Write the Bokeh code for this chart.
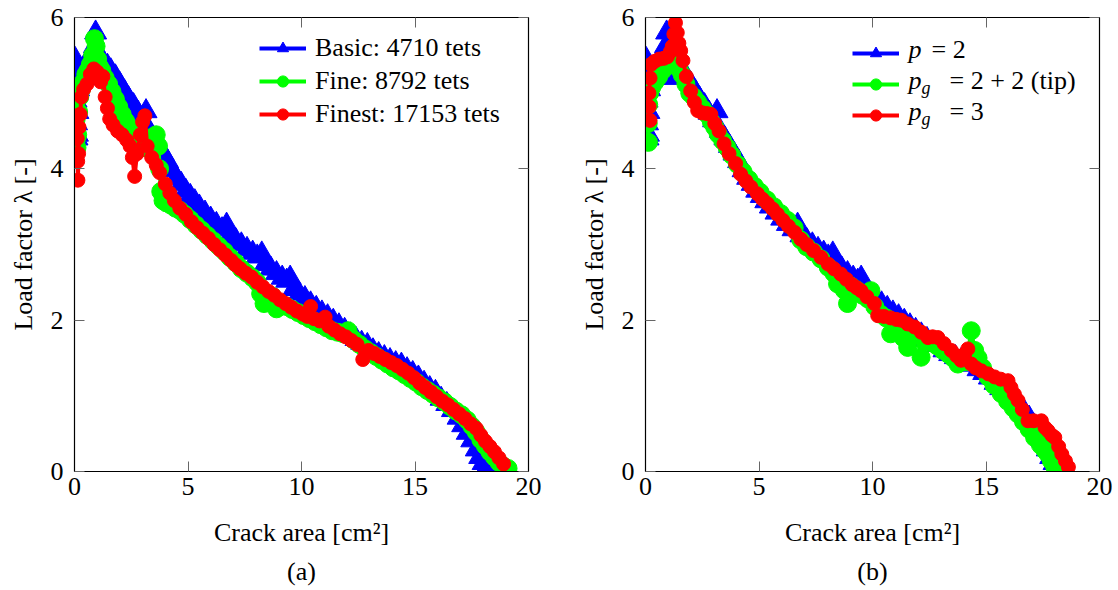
from bokeh.plotting import figure
from bokeh.models import (Range1d, FixedTicker, LinearAxis, Legend, LegendItem,
                          Label, Title)
from bokeh.layouts import row
from bokeh.embed import file_html
from bokeh.resources import INLINE

FONT = "Liberation Serif"
FS = "26px"
BLUE, GREEN, RED = "#0000FF", "#00FF00", "#FF0000"

x_ticks = [0, 5, 10, 15, 20]
y_ticks = [0, 2, 4, 6]

# ---------------- panel (a): mesh refinement ----------------
basic_x = [0.03, 0.05, 0.07, 0.09, 0.11, 0.13, 0.15, 0.18, 0.22, 0.30, 0.40, 0.50, 0.60, 0.70,
           0.80, 0.88, 0.93, 0.98, 1.05, 1.12, 1.20, 1.30, 1.45, 1.60, 1.80, 2.00, 2.20, 2.40,
           2.60, 2.80, 3.00, 3.15, 3.30, 3.50, 3.70, 3.90, 4.10, 4.30, 4.50, 4.70, 4.90, 5.10,
           5.30, 5.50, 5.75, 6.00, 6.25, 6.50, 6.70, 6.85, 7.10, 7.35, 7.60, 7.85, 8.05, 8.25,
           8.40, 8.65, 8.90, 9.15, 9.35, 9.50, 9.65, 9.90, 10.15, 10.40, 10.65, 10.90, 11.15,
           11.40, 11.65, 11.90, 12.15, 12.40, 12.65, 12.90, 13.15, 13.40, 13.65, 13.90, 14.15,
           14.40, 14.65, 14.90, 15.15, 15.40, 15.65, 15.90, 16.15, 16.40, 16.65, 16.90, 17.10,
           17.30, 17.50, 17.70, 17.85, 18.00, 18.15, 18.30]
basic_y = [5.45, 5.20, 4.90, 4.60, 4.40, 4.45, 4.75, 5.05, 5.30, 5.25, 5.32, 5.38, 5.42, 5.48,
           5.55, 5.62, 5.80, 5.45, 5.22, 5.20, 5.35, 5.40, 5.36, 5.30, 5.22, 5.12, 5.02, 4.92,
           4.84, 4.74, 4.64, 4.76, 4.50, 4.40, 4.30, 4.20, 4.10, 3.98, 3.88, 3.80, 3.71, 3.64,
           3.57, 3.50, 3.42, 3.34, 3.27, 3.20, 3.26, 3.12, 3.06, 3.00, 2.94, 2.89, 2.84, 2.88,
           2.74, 2.68, 2.62, 2.56, 2.52, 2.56, 2.41, 2.35, 2.29, 2.22, 2.16, 2.10, 2.05,
           1.99, 1.93, 1.87, 1.81, 1.75, 1.70, 1.67, 1.60, 1.55, 1.51, 1.47, 1.43,
           1.41, 1.35, 1.30, 1.24, 1.17, 1.10, 1.05, 0.96, 0.89, 0.81, 0.71, 0.61,
           0.51, 0.41, 0.29, 0.19, 0.11, 0.05, 0.02]

fine_x = [0.05, 0.07, 0.09, 0.11, 0.14, 0.18, 0.23, 0.30, 0.40, 0.50, 0.60, 0.70, 0.80, 0.88,
          0.95, 1.02, 1.10, 1.20, 1.35, 1.50, 1.65, 1.80, 1.95, 2.10, 2.25, 2.40, 2.55, 2.70,
          2.85, 3.00, 3.15, 3.30, 3.45, 3.60, 3.70, 3.75, 3.80, 3.90, 4.05, 4.25, 4.45, 4.65,
          4.85, 5.10, 5.35, 5.60, 5.85, 6.10, 6.35, 6.60, 6.85, 7.10, 7.35, 7.60, 7.85, 8.05,
          8.20, 8.35, 8.50, 8.70, 8.90, 9.10, 9.35, 9.60, 9.85, 10.10, 10.35, 10.60, 10.85,
          11.10, 11.35, 11.60, 11.85, 12.05, 12.30, 12.55, 12.80, 13.05, 13.30, 13.55, 13.80,
          14.05, 14.30, 14.55, 14.80, 15.05, 15.30, 15.55, 15.80, 16.05, 16.30, 16.55, 16.80,
          17.05, 17.30, 17.50, 17.70, 17.90, 18.10, 18.30, 18.50, 18.70, 18.90, 19.10]
fine_y = [4.90, 4.65, 4.40, 4.28, 4.45, 4.75, 4.95, 5.05, 5.15, 5.25, 5.30, 5.38, 5.50, 5.72,
          5.62, 5.45, 5.35, 5.30, 5.20, 5.12, 5.02, 4.92, 4.82, 4.72, 4.63, 4.55, 4.48, 4.40,
          4.33, 4.28, 4.28, 4.35, 4.42, 4.45, 4.30, 4.00, 3.70, 3.58, 3.55, 3.52, 3.48, 3.45,
          3.40, 3.33, 3.26, 3.19, 3.12, 3.05, 2.98, 2.91, 2.83, 2.76, 2.68, 2.62, 2.56, 2.50,
          2.35, 2.22, 2.28, 2.32, 2.15, 2.22, 2.18, 2.14, 2.10, 2.06, 2.02, 1.98, 1.94,
          1.90, 1.86, 1.84, 1.82, 1.86, 1.74, 1.68, 1.62, 1.57, 1.52, 1.47, 1.42,
          1.37, 1.33, 1.28, 1.23, 1.18, 1.12, 1.07, 1.02, 0.97, 0.92, 0.86, 0.80,
          0.75, 0.68, 0.60, 0.52, 0.42, 0.34, 0.26, 0.19, 0.12, 0.07, 0.04]

finest_x = [0.10, 0.12, 0.14, 0.15, 0.18, 0.20, 0.25, 0.30, 0.40, 0.55, 0.70, 0.85, 1.00, 1.15,
            1.25, 1.35, 1.45, 1.55, 1.70, 1.90, 2.10, 2.30, 2.45, 2.55, 2.65, 2.75, 2.90, 3.00,
            3.10, 3.20, 3.40, 3.60, 3.75, 4.00, 4.20, 4.40, 4.64, 4.90, 5.15, 5.40, 5.65, 5.90,
            6.15, 6.40, 6.65, 6.90, 7.10, 7.30, 7.55, 7.80, 8.05, 8.30, 8.55, 8.80, 9.05, 9.30,
            9.55, 9.80, 10.05, 10.25, 10.40, 10.55, 10.80, 11.04, 11.20, 11.45, 11.70, 11.95,
            12.20, 12.45, 12.70, 12.95, 13.20, 13.45, 13.70, 13.95, 14.20, 14.45, 14.70, 14.95,
            15.20, 15.45, 15.70, 15.95, 16.20, 16.45, 16.70, 16.95, 17.20, 17.45, 17.70, 17.90,
            18.10, 18.30, 18.50, 18.70, 18.90]
finest_y = [4.70, 4.40, 4.10, 3.85, 4.20, 4.55, 4.72, 4.95, 5.05, 5.12, 5.25, 5.32, 5.28, 5.15,
            5.22, 4.95, 4.80, 4.66, 4.58, 4.50, 4.45, 4.38, 4.30, 4.15, 3.90, 4.20, 4.45, 4.62,
            4.70, 4.30, 4.15, 4.05, 3.95, 3.80, 3.68, 3.58, 3.48, 3.40, 3.30, 3.22, 3.15, 3.08,
            3.00, 2.93, 2.86, 2.79, 2.73, 2.68, 2.62, 2.57, 2.50, 2.44, 2.38, 2.33, 2.27, 2.22,
            2.17, 2.12, 2.08, 2.05, 2.18, 2.02, 1.99, 2.04, 1.92, 1.87, 1.82, 1.78,
            1.73, 1.68, 1.48, 1.60, 1.56, 1.52, 1.48, 1.44, 1.40, 1.35, 1.30, 1.24,
            1.17, 1.11, 1.05, 0.99, 0.93, 0.88, 0.82, 0.76, 0.70, 0.63, 0.57, 0.48,
            0.40, 0.33, 0.26, 0.18, 0.10]

# ---------------- panel (b): polynomial order ----------------
p2_x = basic_x
p2_y = basic_y

pg22_x = [0.13, 0.12, 0.14, 0.18, 0.28, 0.42, 0.58, 0.75, 0.92, 1.05, 1.18, 1.32, 1.48, 1.62,
          1.78, 1.95, 2.12, 2.30, 2.50, 2.72, 2.90, 3.05, 3.20, 3.40, 3.60, 3.80, 4.05, 4.30,
          4.55, 4.80, 5.05, 5.35, 5.65, 5.95, 6.25, 6.55, 6.84, 7.10, 7.40, 7.73, 8.05, 8.30,
          8.46, 8.60, 8.75, 8.90, 9.05, 9.30, 9.55, 9.80, 9.93, 10.10, 10.35, 10.60, 10.80,
          10.95, 11.20, 11.35, 11.55, 11.75, 11.95, 12.14, 12.35, 12.60, 12.85, 13.10, 13.35,
          13.55, 13.76, 13.95, 14.15, 14.35, 14.50, 14.65, 14.85, 15.09, 15.35, 15.67, 15.95,
          16.20, 16.41, 16.65, 16.90, 17.14, 17.40, 17.60, 17.73, 17.88, 18.03]
pg22_y = [4.35, 4.60, 4.85, 5.00, 5.08, 5.15, 5.22, 5.30, 5.38, 5.44, 5.46, 5.40, 5.32, 5.24,
          5.12, 5.00, 4.95, 4.88, 4.80, 4.72, 4.62, 4.55, 4.46, 4.37, 4.28, 4.18, 4.06, 3.96,
          3.86, 3.77, 3.69, 3.59, 3.50, 3.41, 3.32, 3.22, 3.06, 2.97, 2.90, 2.81, 2.70, 2.62,
          2.48, 2.55, 2.40, 2.22, 2.45, 2.40, 2.33, 2.28, 2.39, 2.18, 2.08, 2.03, 1.82,
          1.98, 1.95, 1.77, 1.64, 1.85, 1.80, 1.51, 1.74, 1.70, 1.66, 1.60, 1.55,
          1.50, 1.42, 1.45, 1.45, 1.86, 1.60, 1.50, 1.37, 1.25, 1.14, 1.03, 0.93,
          0.84, 0.76, 0.66, 0.56, 0.45, 0.35, 0.28, 0.23, 0.14, 0.06]

pg3_x = [0.20, 0.16, 0.15, 0.20, 0.24, 0.40, 0.60, 0.80, 0.96, 1.10, 1.18, 1.25, 1.32, 1.40,
         1.47, 1.55, 1.65, 1.80, 1.99, 2.15, 2.30, 2.50, 2.70, 2.88, 3.05, 3.24, 3.46, 3.68,
         3.97, 4.19, 4.42, 4.64, 4.93, 5.15, 5.37, 5.60, 5.81, 6.05, 6.30, 6.57, 6.84, 7.10,
         7.40, 7.73, 8.05, 8.30, 8.60, 8.85, 9.10, 9.30, 9.49, 9.75, 10.08, 10.23, 10.50,
         10.80, 11.05, 11.26, 11.55, 11.85, 12.15, 12.44, 12.65, 12.88, 13.15, 13.47, 13.70,
         13.90, 14.05, 14.20, 14.35, 14.55, 14.80, 15.10, 15.38, 15.65, 15.97, 16.10, 16.25,
         16.41, 16.60, 16.85, 17.10, 17.44, 17.60, 17.73, 17.90, 18.03, 18.20, 18.34, 18.50,
         18.63]
pg3_y = [4.64, 4.82, 5.00, 5.20, 5.38, 5.42, 5.45, 5.46, 5.48, 5.55, 5.62, 5.78, 5.93, 5.80,
         5.66, 5.56, 5.43, 5.22, 5.03, 4.88, 4.77, 4.74, 4.73, 4.72, 4.60, 4.50, 4.33, 4.20,
         4.07, 3.93, 3.84, 3.76, 3.67, 3.60, 3.54, 3.47, 3.40, 3.32, 3.24, 3.16, 3.07, 3.00,
         2.92, 2.83, 2.74, 2.68, 2.61, 2.54, 2.47, 2.43, 2.39, 2.31, 2.22, 2.06, 2.05,
         2.03, 2.01, 2.00, 1.95, 1.91, 1.84, 1.77, 1.78, 1.77, 1.69, 1.60, 1.53,
         1.47, 1.55, 1.62, 1.42, 1.37, 1.33, 1.29, 1.25, 1.22, 1.20, 1.11, 1.02,
         0.94, 0.82, 0.67, 0.67, 0.67, 0.58, 0.54, 0.48, 0.45, 0.33, 0.23, 0.14,
         0.06]

labels_a = ["Basic: 4710 tets", "Fine: 8792 tets", "Finest: 17153 tets"]


def make_fig(border_left, border_right, caption):
    p = figure(width=559, height=590, x_range=Range1d(0, 20), y_range=Range1d(0, 6),
               output_backend="svg", toolbar_location=None, tools="",
               min_border_left=border_left, min_border_right=border_right,
               min_border_top=17, min_border_bottom=119,
               x_axis_label="Crack area [cm²]", y_axis_label="Load factor λ [-]")
    p.grid.visible = False
    p.outline_line_color = "black"
    p.outline_line_width = 1.2
    p.background_fill_color = "white"
    p.border_fill_color = "white"
    p.xaxis.ticker = FixedTicker(ticks=x_ticks)
    p.yaxis.ticker = FixedTicker(ticks=y_ticks)
    for ax in (p.xaxis[0], p.yaxis[0]):
        ax.major_tick_in = 10
        ax.major_tick_out = 0
        ax.minor_tick_line_color = None
        ax.major_tick_line_color = "#666666"
        ax.axis_line_color = "black"
        ax.major_label_text_font = FONT
        ax.major_label_text_font_size = FS
        ax.major_label_text_color = "black"
        ax.axis_label_text_font = FONT
        ax.axis_label_text_font_size = FS
        ax.axis_label_text_font_style = "normal"
        ax.axis_label_text_color = "black"
    p.xaxis.major_label_standoff = 6
    p.yaxis.major_label_standoff = 11
    p.xaxis.axis_label_standoff = 20
    p.yaxis.axis_label_standoff = 10
    top = LinearAxis(ticker=FixedTicker(ticks=x_ticks), major_tick_in=10, major_tick_out=0,
                     minor_tick_line_color=None, major_label_text_font_size="0px",
                     major_label_text_color=None, major_label_standoff=0,
                     major_tick_line_color="#666666", axis_line_color="black")
    right = LinearAxis(ticker=FixedTicker(ticks=y_ticks), major_tick_in=10, major_tick_out=0,
                       minor_tick_line_color=None, major_label_text_font_size="0px",
                       major_label_text_color=None, major_label_standoff=0,
                       major_tick_line_color="#666666", axis_line_color="black")
    p.add_layout(top, "above")
    p.add_layout(right, "right")
    p.add_layout(Title(text=caption, align="center", text_font=FONT, text_font_size=FS,
                       text_font_style="normal", text_color="black", standoff=10), "below")
    return p


def series(p, xs, ys, color, marker, size):
    ln = p.line(xs, ys, line_color=color, line_width=4)
    sc = p.scatter(xs, ys, marker=marker, size=size, fill_color=color, line_color=color)
    return [ln, sc]


# ----- panel (a)
pa = make_fig(74, 31, "(a)")
ra = series(pa, basic_x, basic_y, BLUE, "triangle", 22)
ga = series(pa, fine_x, fine_y, GREEN, "circle", 18)
fa = series(pa, finest_x, finest_y, RED, "circle", 14)
leg_a = Legend(items=[LegendItem(label=labels_a[0], renderers=ra),
                      LegendItem(label=labels_a[1], renderers=ga),
                      LegendItem(label=labels_a[2], renderers=fa)],
               location=(185, 342), glyph_width=47, glyph_height=28, label_height=28,
               spacing=3, padding=4, label_standoff=9, border_line_color=None,
               background_fill_alpha=0, label_text_font=FONT, label_text_font_size=FS,
               label_text_color="black")
pa.add_layout(leg_a)

# ----- panel (b)
pb = make_fig(86, 19, "(b)")
rb = series(pb, p2_x, p2_y, BLUE, "triangle", 22)
gb = series(pb, pg22_x, pg22_y, GREEN, "circle", 18)
fb = series(pb, pg3_x, pg3_y, RED, "circle", 14)
leg_b = Legend(items=[LegendItem(label=" ", renderers=rb),
                      LegendItem(label=" ", renderers=gb),
                      LegendItem(label=" ", renderers=fb)],
               location=(207, 342), glyph_width=47, glyph_height=28, label_height=28,
               spacing=3, padding=4, label_standoff=9, border_line_color=None,
               background_fill_alpha=0, label_text_font=FONT, label_text_font_size=FS)
pb.add_layout(leg_b)


def lab(p, x, y, text, italic=False, size=FS):
    p.add_layout(Label(x=x, y=y, x_units="screen", y_units="screen", text=text,
                       text_font=FONT, text_font_size=size, text_color="black",
                       text_font_style="italic" if italic else "normal",
                       text_baseline="middle", text_align="left"))


rows_y = [422, 391, 360]
lab(pb, 263, rows_y[0], "p", italic=True)
lab(pb, 286, rows_y[0], "= 2")
lab(pb, 263, rows_y[1], "p", italic=True)
lab(pb, 276, rows_y[1] - 7, "g", italic=True, size="18px")
lab(pb, 304, rows_y[1], "= 2 + 2 (tip)")
lab(pb, 263, rows_y[2], "p", italic=True)
lab(pb, 276, rows_y[2] - 7, "g", italic=True, size="18px")
lab(pb, 304, rows_y[2], "= 3")

layout = row(pa, pb)
open("out.html", "w").write(file_html(layout, INLINE))
